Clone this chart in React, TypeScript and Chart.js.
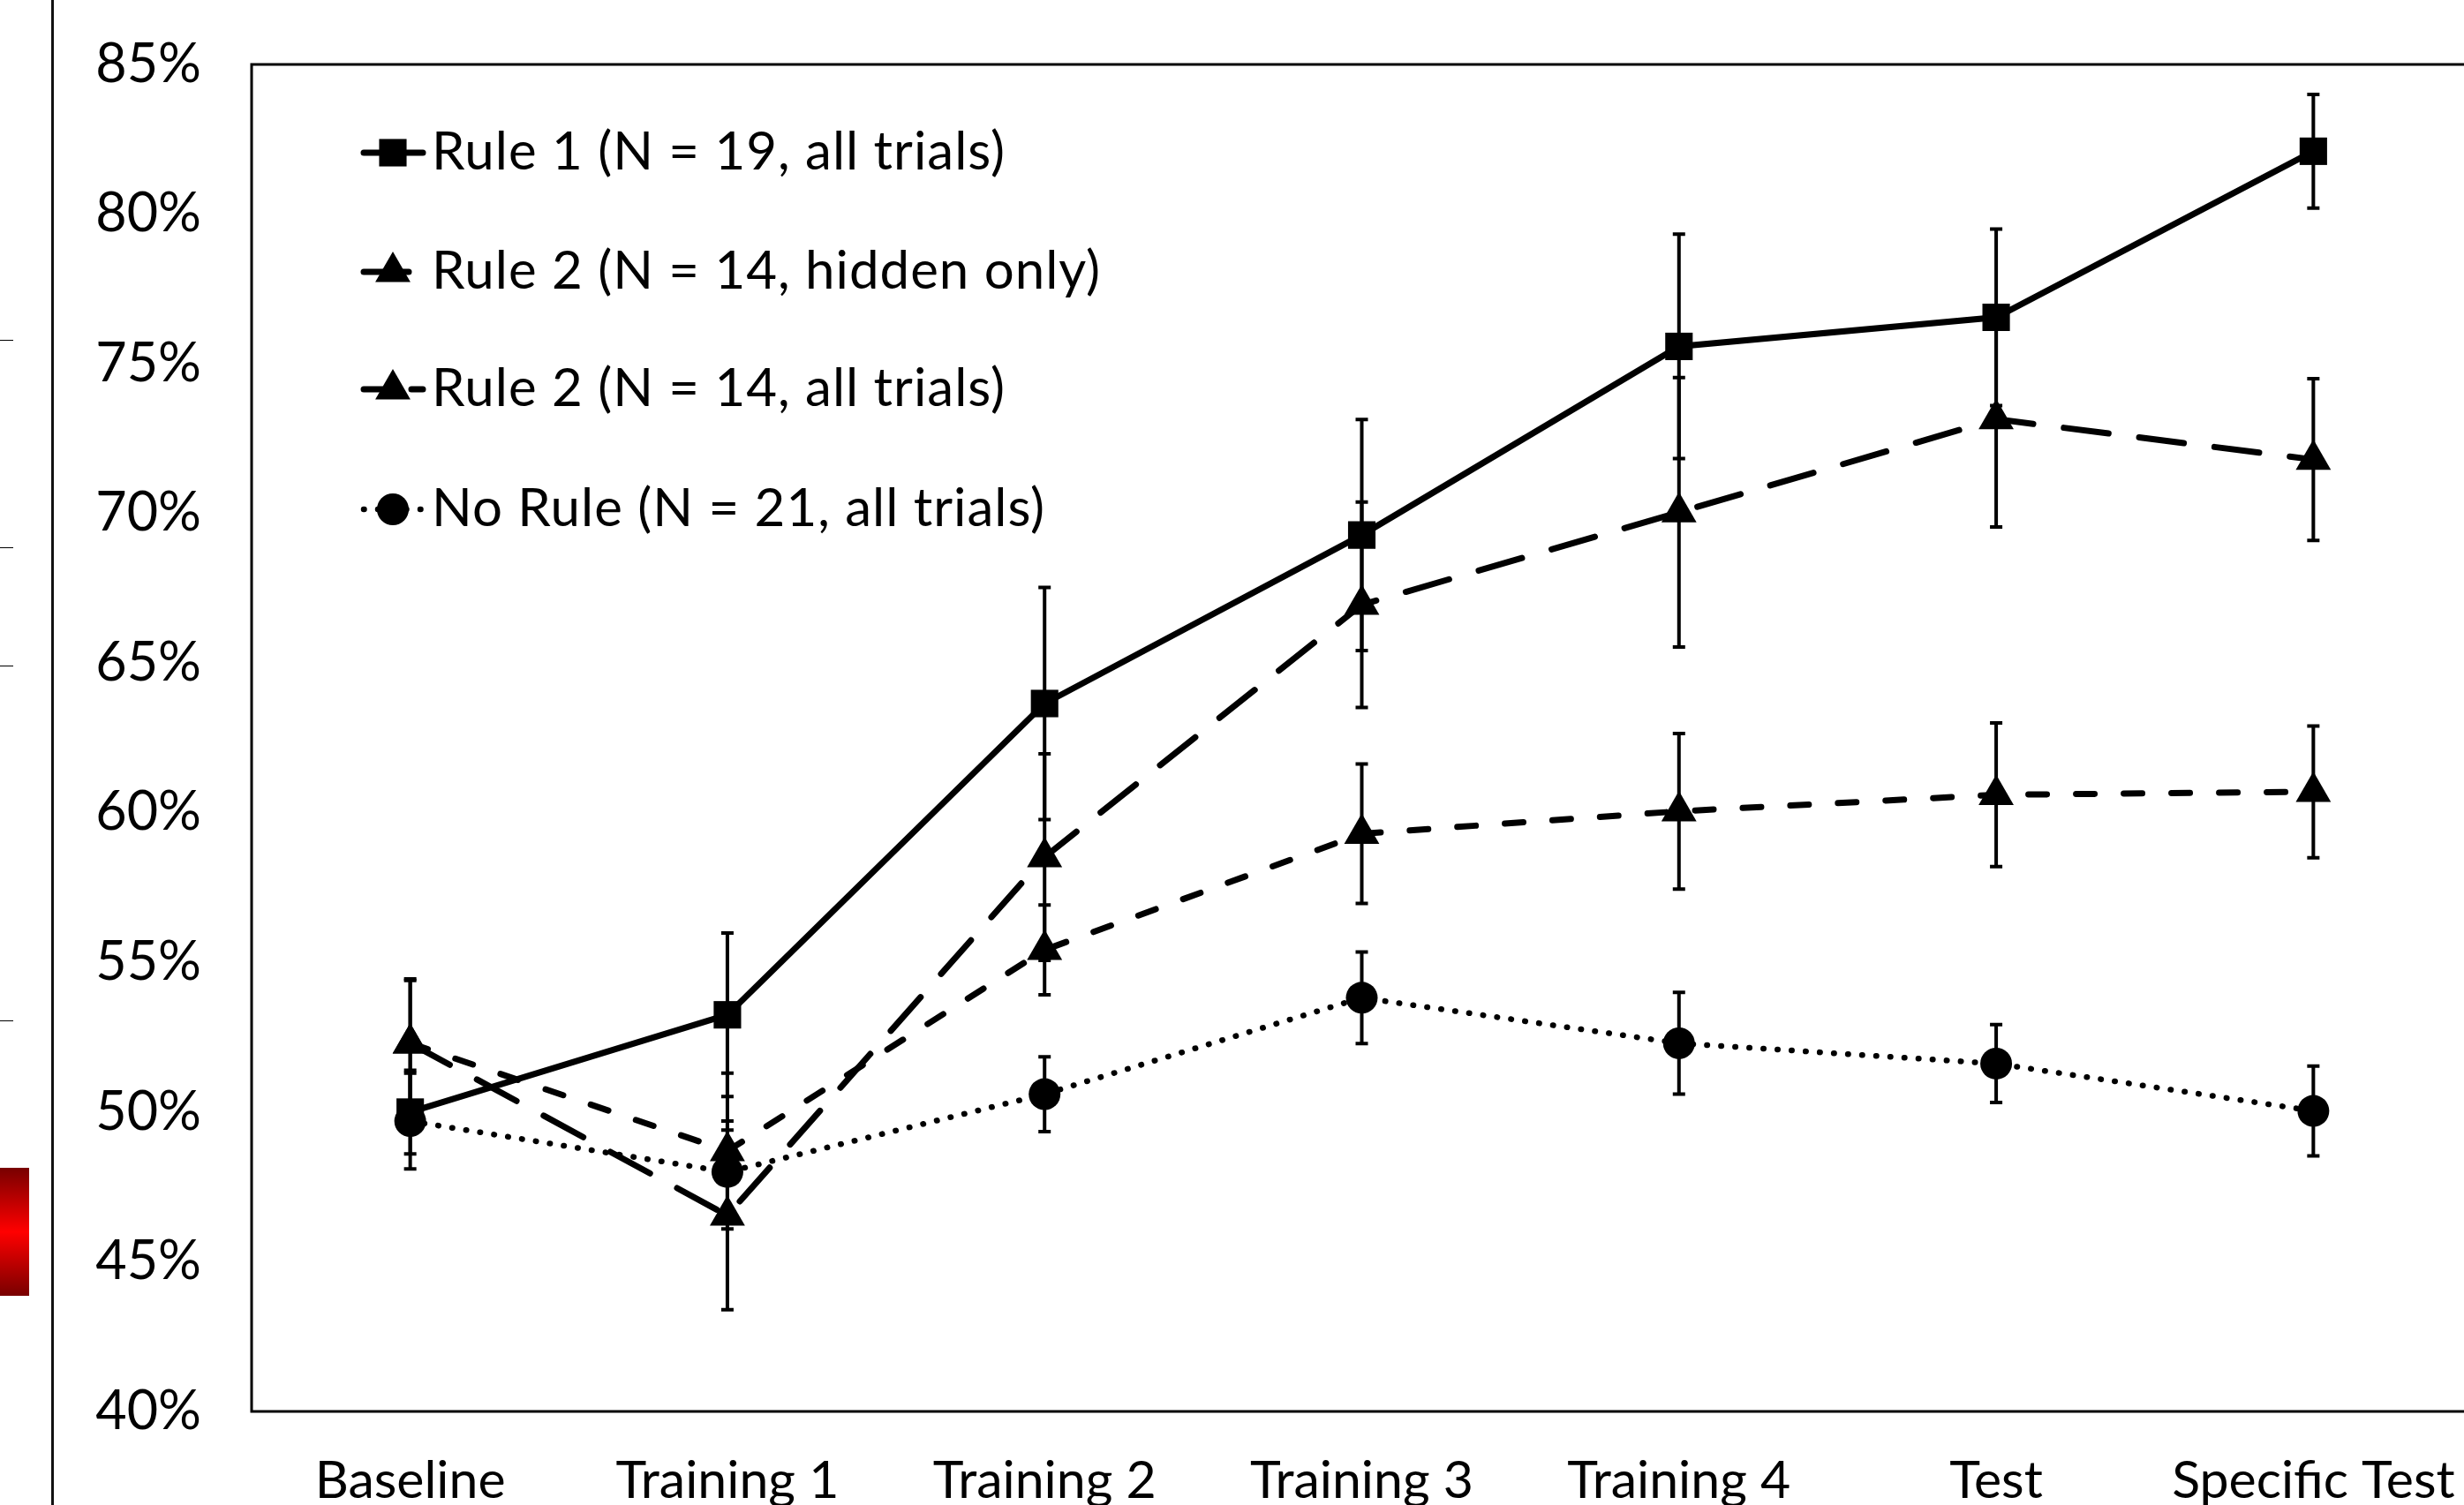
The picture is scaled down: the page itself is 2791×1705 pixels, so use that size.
import React, { useEffect, useRef } from 'react';
import { Chart, registerables } from 'chart.js';

Chart.register(...registerables);

// ---------- data ----------
const categories = ['Baseline', 'Training 1', 'Training 2', 'Training 3', 'Training 4', 'Test', 'Specific Test'];

const rule1 = [50.0, 53.25, 63.65, 69.28, 75.58, 76.55, 82.1];
const rule1Err = [1.4, 2.73, 3.88, 3.86, 3.75, 2.95, 1.9];

const rule2Hidden = [52.3, 46.55, 58.52, 66.95, 70.04, 73.15, 71.8];
const rule2HiddenErr = [2.15, 3.15, 3.45, 3.43, 4.5, 3.6, 2.7];

const rule2All = [52.3, 48.7, 55.42, 59.3, 60.05, 60.6, 60.7];
const rule2AllErr = [2.1, 2.6, 1.5, 2.33, 2.6, 2.4, 2.2];

const noRule = [49.7, 48.0, 50.6, 53.82, 52.3, 51.62, 50.04];
const noRuleErr = [1.6, 1.4, 1.25, 1.53, 1.7, 1.3, 1.5];

const seriesLabels = [
  'Rule 1 (N = 19, all trials)',
  'Rule 2 (N = 14, hidden only)',
  'Rule 2 (N = 14, all trials)',
  'No Rule (N = 21, all trials)',
];

const yMin = 40;
const yMax = 85;
const yStep = 5;

const errors = [rule1Err, rule2HiddenErr, rule2AllErr, noRuleErr];

// ---------- marker drawing (matches Chart.js geometry) ----------
function drawMarker(ctx: CanvasRenderingContext2D, style: string, r: number, x: number, y: number) {
  ctx.beginPath();
  if (style === 'rect') {
    const s = Math.SQRT1_2 * r;
    ctx.rect(x - s, y - s, 2 * s, 2 * s);
  } else if (style === 'triangle') {
    let rad = 0;
    ctx.moveTo(x + Math.sin(rad) * r, y - Math.cos(rad) * r);
    rad += (2 * Math.PI) / 3;
    ctx.lineTo(x + Math.sin(rad) * r, y - Math.cos(rad) * r);
    rad += (2 * Math.PI) / 3;
    ctx.lineTo(x + Math.sin(rad) * r, y - Math.cos(rad) * r);
    ctx.closePath();
  } else {
    ctx.arc(x, y, r, 0, Math.PI * 2);
  }
  ctx.fillStyle = '#000';
  ctx.fill();
}

const framePlugin = {
  id: 'frame',
  beforeDatasetsDraw(chart: any) {
    const { ctx, chartArea } = chart;
    ctx.save();
    ctx.strokeStyle = '#000';
    ctx.lineWidth = 3;
    ctx.strokeRect(chartArea.left, chartArea.top, chartArea.right - chartArea.left, chartArea.bottom - chartArea.top);
    ctx.restore();
  },
};

const errorBarPlugin = {
  id: 'errorBars',
  beforeDatasetsDraw(chart: any) {
    const { ctx } = chart;
    const xs = chart.scales.x;
    const ys = chart.scales.y;
    ctx.save();
    ctx.strokeStyle = '#000';
    ctx.lineWidth = 4;
    ctx.setLineDash([]);
    chart.data.datasets.forEach((ds: any, i: number) => {
      const errs = errors[i];
      ds.data.forEach((v: number, j: number) => {
        const x = xs.getPixelForValue(j);
        const top = ys.getPixelForValue(v + errs[j]);
        const bot = ys.getPixelForValue(v - errs[j]);
        ctx.beginPath();
        ctx.moveTo(x, top);
        ctx.lineTo(x, bot);
        ctx.moveTo(x - 7, top);
        ctx.lineTo(x + 7, top);
        ctx.moveTo(x - 7, bot);
        ctx.lineTo(x + 7, bot);
        ctx.stroke();
      });
    });
    ctx.restore();
  },
};

const legendPlugin = {
  id: 'customLegend',
  afterDraw(chart: any) {
    const { ctx } = chart;
    const rowsY = [173, 308, 441, 577];
    ctx.save();
    chart.data.datasets.forEach((ds: any, i: number) => {
      const y = rowsY[i];
      ctx.strokeStyle = '#000';
      ctx.lineWidth = ds.borderWidth;
      ctx.lineCap = 'round';
      ctx.setLineDash(ds.borderDash || []);
      ctx.beginPath();
      ctx.moveTo(412, y);
      ctx.lineTo(479, y);
      ctx.stroke();
      ctx.setLineDash([]);
      drawMarker(ctx, ds.pointStyle, ds.pointRadius, 445, y);
      ctx.fillStyle = '#000';
      ctx.font = '60px Lato';
      (ctx as any).letterSpacing = '1px';
      ctx.textBaseline = 'middle';
      ctx.textAlign = 'left';
      ctx.fillText(ds.label, 489, y);
      (ctx as any).letterSpacing = '0px';
    });
    ctx.restore();
  },
};

export default function App() {
  const canvasRef = useRef<HTMLCanvasElement | null>(null);

  useEffect(() => {
    const canvas = canvasRef.current;
    if (!canvas) return;
    const common = {
      borderColor: '#000',
      backgroundColor: '#000',
      pointBackgroundColor: '#000',
      pointBorderColor: '#000',
      pointBorderWidth: 0,
      borderCapStyle: 'round' as const,
      tension: 0,
      fill: false,
    };
    const chart = new Chart(canvas, {
      type: 'line',
      data: {
        labels: categories,
        datasets: [
          { ...common, label: seriesLabels[0], data: rule1, borderWidth: 7, borderDash: [], pointStyle: 'rect', pointRadius: 22, borderCapStyle: 'butt' },
          { ...common, label: seriesLabels[1], data: rule2Hidden, borderWidth: 7, borderDash: [51, 35], pointStyle: 'triangle', pointRadius: 23 },
          { ...common, label: seriesLabels[2], data: rule2All, borderWidth: 7, borderDash: [21, 33], pointStyle: 'triangle', pointRadius: 23 },
          { ...common, label: seriesLabels[3], data: noRule, borderWidth: 6.5, borderDash: [0.5, 15.5], pointStyle: 'circle', pointRadius: 18 },
        ],
      },
      options: {
        responsive: false,
        animation: false,
        devicePixelRatio: 1,
        layout: { padding: { top: 73, right: 2, left: 0, bottom: 0 } },
        plugins: { legend: { display: false }, tooltip: { enabled: false } },
        scales: {
          x: {
            type: 'category',
            offset: true,
            grid: { display: false, drawTicks: false },
            border: { display: false },
            ticks: {
              color: '#000',
              font: { family: 'Lato', size: 59 },
              padding: 44,
              maxRotation: 0,
              autoSkip: false,
            },
            afterFit: (scale: any) => {
              scale.height = 133;
              scale.paddingLeft = 0;
              scale.paddingRight = 0;
            },
          },
          y: {
            min: yMin,
            max: yMax,
            grid: { display: false, drawTicks: false },
            border: { display: false },
            ticks: {
              stepSize: yStep,
              color: '#000',
              font: { family: 'Lato', size: 61 },
              padding: 57,
              callback: (v: any) => `${v}%`,
            },
            afterFit: (scale: any) => {
              scale.width = 285;
              scale.paddingTop = 0;
              scale.paddingBottom = 0;
            },
          },
        },
      },
      plugins: [framePlugin, errorBarPlugin, legendPlugin],
    } as any);
    return () => chart.destroy();
  }, []);

  return (
    <div style={{ position: 'fixed', left: 0, top: 0, width: 2791, height: 1705, overflow: 'hidden', background: '#fff' }}>
      <canvas ref={canvasRef} width={2823} height={1732} style={{ position: 'absolute', left: 0, top: 0, width: 2823, height: 1732 }} />
      <div style={{ position: 'absolute', left: 58, top: 0, width: 3, height: 1705, background: '#111' }} />
      <div style={{ position: 'absolute', left: 0, top: 385, width: 15, height: 1, background: '#000' }} />
      <div style={{ position: 'absolute', left: 0, top: 620, width: 15, height: 1, background: '#000' }} />
      <div style={{ position: 'absolute', left: 0, top: 754, width: 15, height: 1, background: '#000' }} />
      <div style={{ position: 'absolute', left: 0, top: 1156, width: 15, height: 1, background: '#000' }} />
      <div style={{ position: 'absolute', left: 0, top: 1323, width: 33, height: 145, background: 'linear-gradient(to bottom, #780000 0%, #ff0000 50%, #780000 100%)' }} />
    </div>
  );
}
